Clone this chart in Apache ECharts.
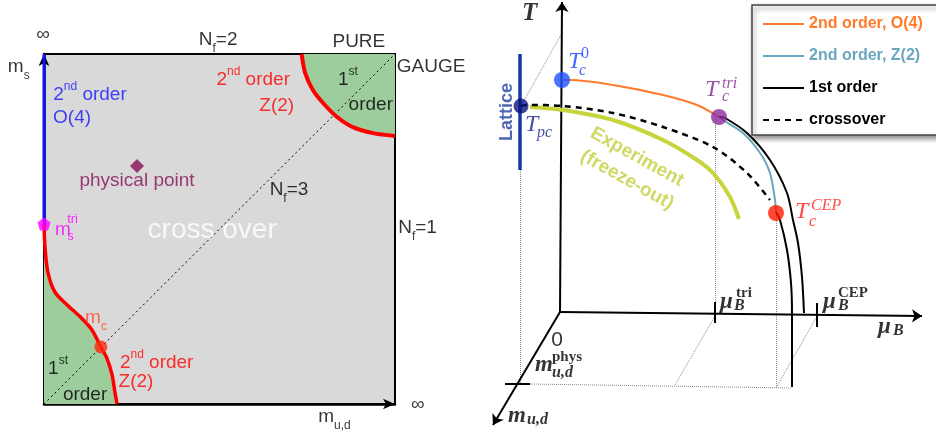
<!DOCTYPE html>
<html>
<head>
<meta charset="utf-8">
<script src="https://cdn.jsdelivr.net/npm/echarts@6/dist/echarts.min.js"></script>
<style>html,body{margin:0;padding:0;background:#fff}#chart{width:936px;height:432px}</style>
</head>
<body>
<div id="chart"></div>
<script>
// ---- left panel: Columbia plot (x = m_ud, y = m_s, both 0..inf scaled to 0..1) ----
var heavyFirstOrder = [[0.734, 1], [0.744, 0.946], [0.766, 0.897], [0.795, 0.86], [0.835, 0.82], [0.88, 0.791], [0.937, 0.774], [1, 0.766]];
var lightFirstOrder = [[0, 0.514], [0.003, 0.446], [0.011, 0.377], [0.031, 0.32], [0.066, 0.283], [0.103, 0.249], [0.137, 0.211], [0.162, 0.163], [0.179, 0.131], [0.194, 0.083], [0.202, 0.034], [0.208, 0]];
var o4Line = [[0, 0.514], [0, 1]];
var nf3Line = [[0, 0], [1, 1]];
var physPoint = [[0.265, 0.68]];
var triPoint = [[0, 0.514]];
var critPoint = [[0.162, 0.163]];

// ---- right panel: sketch of T vs mu_B (with m_ud axis in perspective) ----
var o4Curve = [[2, 232], [10, 232], [53, 227], [103, 217], [137, 207], [159, 195]];
var z2Curve = [[159, 195], [163, 192], [183, 179], [200, 159], [210, 139], [215, 112], [216, 100]];
var firstOuter = [[159, 195], [165, 194], [187, 179], [210, 152], [227, 119], [233, 92], [238, 69], [242, 35], [244, -1]];
var firstInner = [[216, 100], [220, 92], [227, 62], [231, 29], [232, -1], [232, -75]];
var crossover = [[-39, 206], [-33, 207], [3, 206], [53, 199], [103, 185], [153, 165], [187, 139], [210, 112]];
var freezeOut = [[-30, 205], [3, 202], [53, 192], [103, 172], [137, 152], [153, 139], [170, 115], [179, 93]];
var latticeBar = [[-40, 258], [-40, 142]];
var latticePoint = [[-39, 206]];
var tc0Point = [[2, 232]];
var tcTriPoint = [[159, 195]];
var cepPoint = [[216, 99]];
var axes3d = [[[0, 0], [2, 310]], [[0, 0], [362, -4]], [[0, 0], [-67, -113]]];
var axisTicks = [[[-55, -72], [-30, -72]], [[155, 10], [155, -11]], [[257, 9], [257, -15]]];
var guides = [
    [[-30, -72], [232, -76]], [[115, -73], [155, -4]], [[216, -76], [256, -6]],
    [[-40, 142], [-40, -72]], [[155, 195], [155, 10]], [[216, 99], [216, -76]], [[-39, 206], [2, 279]]
];

// text annotations: [x, y, text, style, anchor, rotate]
var leftTexts = [
    [-0.003, 1.054, '∞', 'k', 'c'],
    [-0.103, 0.963, 'm{sub|s}', 'k', 'l'],
    [0.496, 1.04, 'N{sub|f}=2', 'k', 'c'],
    [0.897, 1.034, 'PURE', 'k', 'c'],
    [1.005, 0.963, 'GAUGE', 'k', 'l'],
    [0.596, 0.926, '2{sup|nd} order', 'r', 'c'],
    [0.663, 0.851, 'Z(2)', 'r', 'c'],
    [0.866, 0.926, '1{sup|st}', 'k', 'c'],
    [0.931, 0.854, 'order', 'k', 'c'],
    [0.131, 0.883, '2{sup|nd} order', 'b', 'c'],
    [0.08, 0.817, 'O(4)', 'b', 'c'],
    [0.265, 0.637, 'physical point', 'p', 'c'],
    [0.698, 0.611, 'N{sub|f}=3', 'k', 'c'],
    [0.479, 0.497, 'cross over', 'w', 'c'],
    [1.009, 0.503, 'N{sub|f}=1', 'k', 'l'],
    [0.031, 0.497, 'm', 'm', 'l'],
    [0.066, 0.528, 'tri', 'mS', 'l'],
    [0.066, 0.48, 's', 'mS', 'l'],
    [0.117, 0.246, 'm{sub|c}', 'o', 'l'],
    [0.04, 0.1, '1{sup|st}', 'k', 'c'],
    [0.117, 0.026, 'order', 'k', 'c'],
    [0.321, 0.117, '2{sup|nd} order', 'r', 'c'],
    [0.262, 0.063, 'Z(2)', 'r', 'c'],
    [1.065, -0.003, '∞', 'k', 'c'],
    [0.781, -0.037, 'm{sub|u,d}', 'k', 'l']
];
var rightTexts = [
    [-38, 298, 'T', 'TT', 'l'],
    [8, 250, 'T', 'mb', 'l'], [21, 258, '0', 'mbU', 'l'], [19, 241, 'c', 'mbS', 'l'],
    [-35, 187, 'T', 'mn', 'l'], [-23, 179, 'pc', 'mnS', 'l'],
    [145, 222, 'T', 'mp', 'l'], [162, 228, 'tri', 'mpS', 'l'], [162, 215, 'c', 'mpS', 'l'],
    [235, 100, 'T', 'mr', 'l'], [251, 106, 'CEP', 'mrS', 'l'], [249, 90, 'c', 'mrS', 'l'],
    [160, 10, 'μ', 'mk', 'l'], [176, 19, 'tri', 'upS', 'l'], [174, 6, 'B', 'mkS', 'l'],
    [263, 10, 'μ', 'mk', 'l'], [278, 19, 'CEP', 'upS', 'l'], [278, 6, 'B', 'mkS', 'l'],
    [318, -15, 'μ', 'mk', 'l'], [333, -19, 'B', 'mkS', 'l'],
    [-3, -28, '0', 'zero', 'c'],
    [-25, -53, 'm', 'mk', 'l'], [-8, -45, 'phys', 'upS', 'l'], [-8, -61, 'u,d', 'mkS', 'l'],
    [-52, -104, 'm', 'mk', 'l'], [-33, -108, 'u,d', 'mkS', 'l'],
    [-53, 200, 'Lattice', 'lat', 'c', 90],
    [77, 155, 'Experiment', 'exp', 'c', -29],
    [67, 132, '(freeze-out)', 'exp', 'c', -29]
];

var SANS = '"Liberation Sans", Arial, sans-serif';
var SERIF = '"Liberation Serif", "DejaVu Serif", serif';
var styles = {
    k: { color: '#000', size: 19 },
    r: { color: '#ff0000', size: 19 },
    b: { color: '#1414ff', size: 19 },
    p: { color: '#870f55', size: 19 },
    w: { color: '#ffffff', size: 28 },
    m: { color: '#ff00ff', size: 19 },
    mS: { color: '#ff00ff', size: 13 },
    o: { color: '#ff4a2a', size: 19 },
    TT: { color: '#000', size: 25, font: SERIF, style: 'italic', weight: 'bold' },
    mb: { color: '#1a44ff', size: 24, font: SERIF, style: 'italic' },
    mbS: { color: '#1a44ff', size: 16, font: SERIF, style: 'italic' },
    mbU: { color: '#1a44ff', size: 16, font: SERIF },
    mn: { color: '#1a2390', size: 24, font: SERIF, style: 'italic' },
    mnS: { color: '#1a2390', size: 16, font: SERIF, style: 'italic' },
    mp: { color: '#7e2b8c', size: 24, font: SERIF, style: 'italic' },
    mpS: { color: '#7e2b8c', size: 16, font: SERIF, style: 'italic' },
    mr: { color: '#ff1a1a', size: 24, font: SERIF, style: 'italic' },
    mrS: { color: '#ff1a1a', size: 16, font: SERIF, style: 'italic' },
    mk: { color: '#000', size: 23, font: SERIF, style: 'italic', weight: 'bold' },
    mkS: { color: '#000', size: 16, font: SERIF, style: 'italic', weight: 'bold' },
    upS: { color: '#000', size: 15, font: SERIF, weight: 'bold' },
    zero: { color: '#000', size: 21 },
    lat: { color: '#1f3ea3', size: 18, weight: 'bold' },
    exp: { color: '#c4cf3e', size: 19, weight: 'bold' }
};

function mkLabel(key, anchor, rotate) {
    var st = styles[key];
    var fs = st.size;
    var font = st.font || SANS;
    var small = Math.round(fs * 0.62);
    return {
        show: true,
        position: anchor === 'l' ? 'right' : 'inside',
        distance: 0,
        rotate: rotate || 0,
        formatter: function (p) { return p.name; },
        color: st.color,
        fontSize: fs,
        fontFamily: font,
        fontStyle: st.style || 'normal',
        fontWeight: st.weight || 'normal',
        lineHeight: Math.round(fs * 1.5),
        rich: {
            sup: { color: st.color, fontSize: small, fontFamily: font, lineHeight: small, verticalAlign: 'top' },
            sub: { color: st.color, fontSize: small, fontFamily: font, lineHeight: small, verticalAlign: 'bottom' }
        }
    };
}

function textItems(list) {
    return list.map(function (t) {
        return { name: t[2], value: [t[0], t[1]], label: mkLabel(t[3], t[4], t[5]) };
    });
}

function lineSeries(name, data, color, width, grid, extra) {
    var s = {
        name: name,
        type: 'line',
        xAxisIndex: grid,
        yAxisIndex: grid,
        data: data,
        symbol: 'none',
        smooth: 0.3,
        silent: true,
        lineStyle: { color: color, width: width },
        itemStyle: { color: color },
        z: 3
    };
    for (var k in extra) s[k] = extra[k];
    return s;
}

function dotSeries(data, color, size, grid, symbol) {
    return {
        type: 'scatter',
        xAxisIndex: grid,
        yAxisIndex: grid,
        data: data,
        symbol: symbol || 'circle',
        symbolSize: size,
        itemStyle: { color: color },
        silent: true,
        clip: false,
        z: 5
    };
}

function segSeries(segs, color, width, type, arrow) {
    return {
        type: 'lines',
        coordinateSystem: 'cartesian2d',
        xAxisIndex: 1,
        yAxisIndex: 1,
        data: segs.map(function (s) { return { coords: s }; }),
        lineStyle: { color: color, width: width, type: type, opacity: 1 },
        symbol: arrow ? ['none', 'arrow'] : 'none',
        symbolSize: 10,
        silent: true,
        z: 2
    };
}

var chart = echarts.init(document.getElementById('chart'));
var option = {
    animation: false,
    backgroundColor: '#fff',
    grid: [
        { left: 44, top: 54, width: 351, height: 350, show: true, backgroundColor: '#d9d9d9', borderColor: '#000', borderWidth: 2 },
        { left: 480, top: 0, width: 456, height: 432, show: false }
    ],
    xAxis: [
        {
            gridIndex: 0, type: 'value', min: 0, max: 1,
            axisLine: { show: true, onZero: false, symbol: ['none', 'arrow'], symbolSize: [8, 12], lineStyle: { color: '#000', width: 2.5 } },
            axisTick: { show: false }, axisLabel: { show: false }, splitLine: { show: false }
        },
        { gridIndex: 1, type: 'value', min: -80, max: 376, show: false }
    ],
    yAxis: [
        {
            gridIndex: 0, type: 'value', min: 0, max: 1,
            axisLine: { show: true, onZero: false, symbol: ['none', 'arrow'], symbolSize: [8, 12], lineStyle: { color: '#000', width: 2.5 } },
            axisTick: { show: false }, axisLabel: { show: false }, splitLine: { show: false }
        },
        { gridIndex: 1, type: 'value', min: -120, max: 312, show: false }
    ],
    legend: {
        left: 752,
        top: 5,
        orient: 'vertical',
        selectedMode: false,
        itemWidth: 41,
        itemHeight: 14,
        itemGap: 16,
        padding: [11, 40, 7, 10],
        backgroundColor: '#fff',
        borderColor: '#444',
        borderWidth: 1.5,
        shadowColor: 'rgba(0,0,0,0.45)',
        shadowBlur: 5,
        shadowOffsetX: 2,
        shadowOffsetY: 3,
        itemStyle: { opacity: 0 },
        textStyle: { fontFamily: SANS, fontWeight: 'bold', fontSize: 16 },
        data: [
            { name: '2nd order, O(4)', textStyle: { color: '#ff7a2a' } },
            { name: '2nd order, Z(2)', textStyle: { color: '#6aa6c0' } },
            { name: '1st order', textStyle: { color: '#000' } },
            { name: 'crossover', textStyle: { color: '#000' } }
        ]
    },
    series: [
        // left panel
        lineSeries('heavy', heavyFirstOrder, '#9dcd9c', 0, 0, { areaStyle: { color: '#9dcd9c', opacity: 1, origin: 'end' }, z: 1 }),
        lineSeries('light', lightFirstOrder, '#9dcd9c', 0, 0, { areaStyle: { color: '#9dcd9c', opacity: 1, origin: 'start' }, z: 1 }),
        lineSeries('Nf3', nf3Line, '#000', 1, 0, { smooth: false, lineStyle: { color: '#000', width: 1, type: [2, 3] }, z: 2 }),
        lineSeries('heavyZ2', heavyFirstOrder, '#ff0000', 4, 0),
        lineSeries('lightZ2', lightFirstOrder, '#ff0000', 3.5, 0),
        lineSeries('O4', o4Line, '#1010ff', 3, 0, { smooth: false }),
        dotSeries(physPoint, '#870f55', 14, 0, 'diamond'),
        dotSeries(triPoint, '#ff00ff', 13, 0, 'path://M0,-1 L0.95,-0.31 L0.59,0.81 L-0.59,0.81 L-0.95,-0.31 Z'),
        dotSeries(critPoint, '#ff2a10', 13, 0),
        // right panel
        segSeries(guides, '#8a8a8a', 1, 'dotted', false),
        segSeries(axes3d, '#000', 2, 'solid', true),
        segSeries(axisTicks, '#000', 2, 'solid', false),
        lineSeries('Lattice', latticeBar, '#1238a8', 3.5, 1, { smooth: false }),
        lineSeries('Experiment', freezeOut, '#c8d43c', 4, 1),
        lineSeries('crossover', crossover, '#000', 2.5, 1, { lineStyle: { color: '#000', width: 2.5, type: [6, 5] } }),
        lineSeries('2nd order, O(4)', o4Curve, '#ff7a2a', 2, 1),
        lineSeries('2nd order, Z(2)', z2Curve, '#6aa6c0', 2, 1),
        lineSeries('1st order', firstOuter, '#000', 2, 1),
        lineSeries('1st order', firstInner, '#000', 2, 1),
        dotSeries(latticePoint, '#0c1480', 15, 1),
        dotSeries(tc0Point, '#1a50ff', 16, 1),
        dotSeries(tcTriPoint, '#8c2a9a', 16, 1),
        dotSeries(cepPoint, '#ff1a00', 16, 1),
        // annotations
        {
            type: 'scatter', xAxisIndex: 0, yAxisIndex: 0, symbolSize: 0, silent: true, clip: false, z: 10,
            data: textItems(leftTexts)
        },
        {
            type: 'scatter', xAxisIndex: 1, yAxisIndex: 1, symbolSize: 0, silent: true, clip: false, z: 10,
            data: textItems(rightTexts)
        }
    ]
};
chart.setOption(option);
window.onresize = chart.resize;
</script>
</body>
</html>
